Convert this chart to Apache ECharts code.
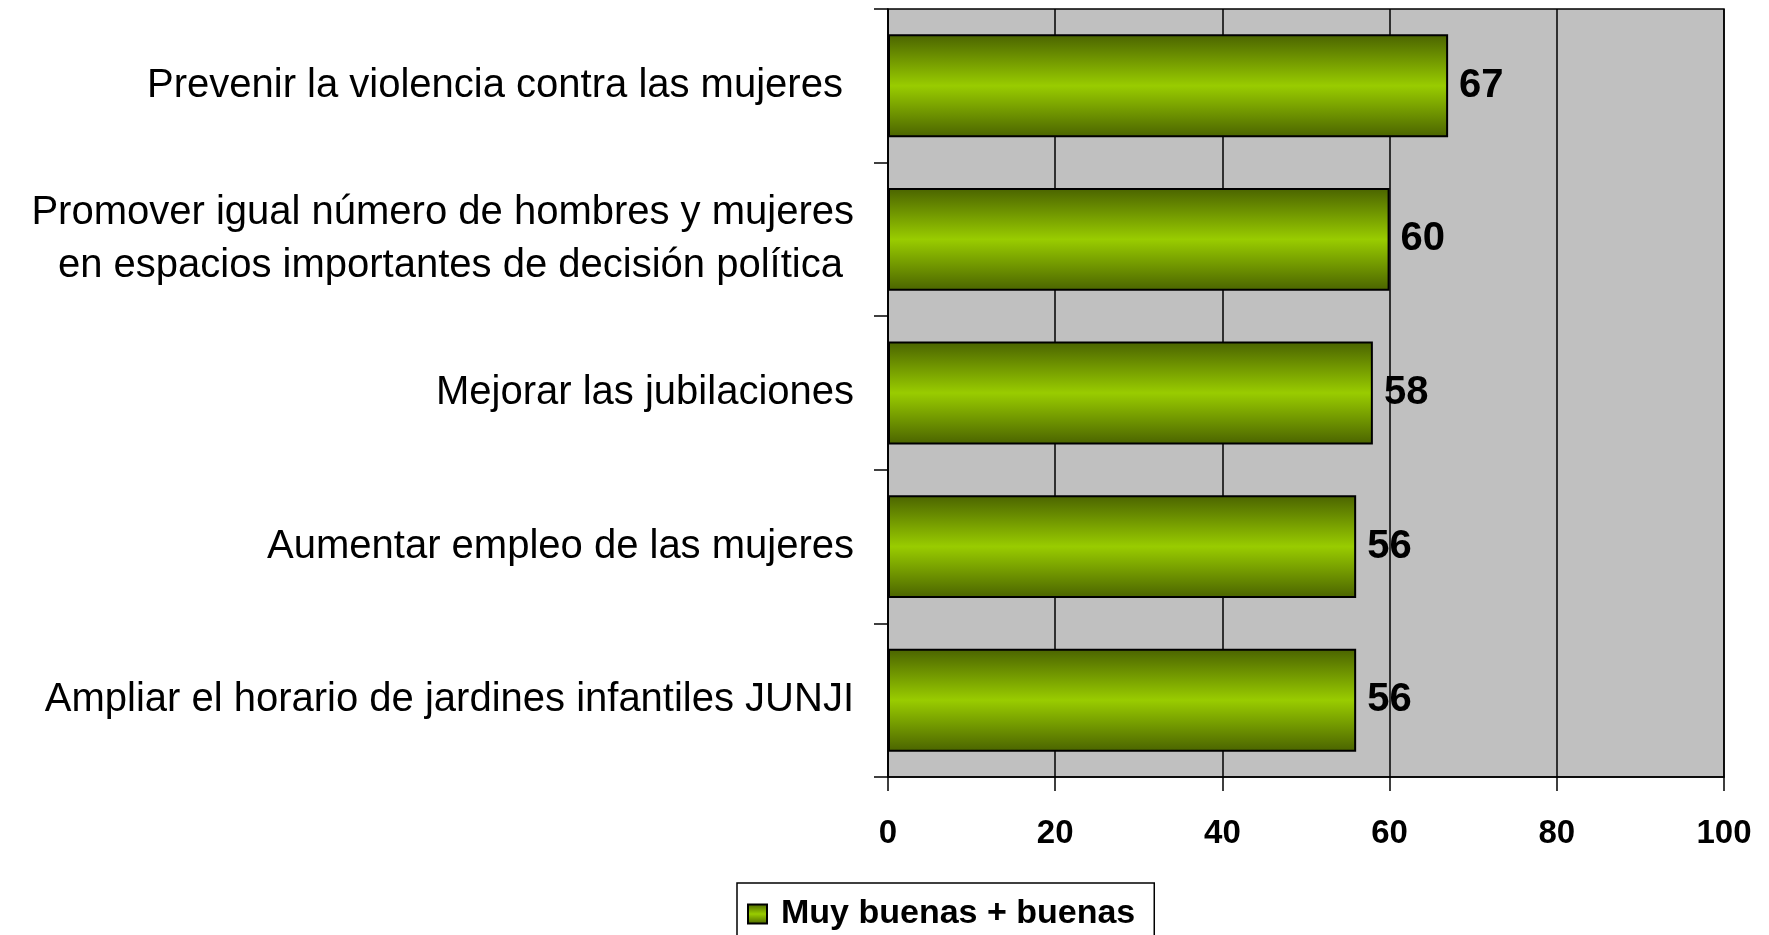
<!DOCTYPE html>
<html>
<head>
<meta charset="utf-8">
<title>Muy buenas + buenas</title>
<script src="https://cdn.jsdelivr.net/npm/echarts@6.0.0/dist/echarts.min.js"></script>
<style>
    html, body { margin: 0; padding: 0; background: #ffffff; }
    #mainChart { width: 1769px; height: 935px; }
</style>
</head>
<body>
<div id="mainChart"></div>
<script>
'use strict';

// categories, top to bottom (trailing spaces are in the original labels)
var categories = [
    'Prevenir la violencia contra las mujeres ',
    'Promover igual número de hombres y mujeres\nen espacios importantes de decisión política ',
    'Mejorar las jubilaciones',
    'Aumentar empleo de las mujeres',
    'Ampliar el horario de jardines infantiles JUNJI'
];
var seriesName = 'Muy buenas + buenas';
var seriesValues = [67, 60, 58, 56, 56];
var axisTicks = [0, 20, 40, 60, 80, 100];

window.onload = function() {
    var myChart = echarts.init(document.getElementById('mainChart'));

    // olive edges, bright green in the middle of each bar
    var barFill = new echarts.graphic.LinearGradient(0, 0, 0, 1, [
        { offset: 0, color: '#4a6300' },
        { offset: 0.5, color: '#99cc00' },
        { offset: 1, color: '#4a6300' }
    ]);

    var option = {
        animation: false,
        textStyle: { fontFamily: '"Liberation Sans", Arial, sans-serif', color: '#000' },
        grid: {
            left: 888,
            right: 45,
            top: 9,
            bottom: 158,
            show: true,
            backgroundColor: '#c0c0c0',
            borderColor: '#000',
            borderWidth: 1.5
        },
        legend: {
            data: [seriesName],
            left: 737,
            top: 883,
            orient: 'horizontal',
            icon: 'rect',
            itemWidth: 19,
            itemHeight: 19,
            backgroundColor: '#ffffff',
            borderColor: '#000',
            borderWidth: 1.5,
            borderRadius: 0,
            padding: [14, 19, 10, 10],
            textStyle: {
                fontSize: 34,
                fontWeight: 'bold',
                color: '#000',
                padding: [0, 0, 0, 9]
            }
        },
        xAxis: {
            type: 'value',
            min: axisTicks[0],
            max: axisTicks[axisTicks.length - 1],
            interval: axisTicks[1] - axisTicks[0],
            axisLine: { show: true, lineStyle: { color: '#000', width: 1.5 } },
            axisTick: { show: true, length: 14, lineStyle: { color: '#000', width: 1.5 } },
            axisLabel: {
                margin: 40,
                fontSize: 33,
                fontWeight: 'bold',
                color: '#000'
            },
            splitLine: { show: true, lineStyle: { color: '#000', width: 1.5 } }
        },
        yAxis: {
            type: 'category',
            inverse: true,
            data: categories,
            axisLine: { show: true, lineStyle: { color: '#000', width: 1.5 } },
            axisTick: { show: true, length: 14, alignWithLabel: false, lineStyle: { color: '#000', width: 1.5 } },
            axisLabel: {
                margin: 34,
                fontSize: 40,
                lineHeight: 53,
                color: '#000',
                padding: [5, 0, 0, 0]
            },
            splitLine: { show: false }
        },
        series: [{
            name: seriesName,
            type: 'bar',
            data: seriesValues,
            barCategoryGap: '33%',
            itemStyle: {
                color: barFill,
                borderColor: '#000',
                borderWidth: 2
            },
            label: {
                show: true,
                position: 'right',
                distance: 11,
                fontSize: 40,
                fontWeight: 'bold',
                color: '#000',
                padding: [10, 0, 0, 0]
            }
        }]
    };

    myChart.setOption(option);
};
</script>
</body>
</html>
